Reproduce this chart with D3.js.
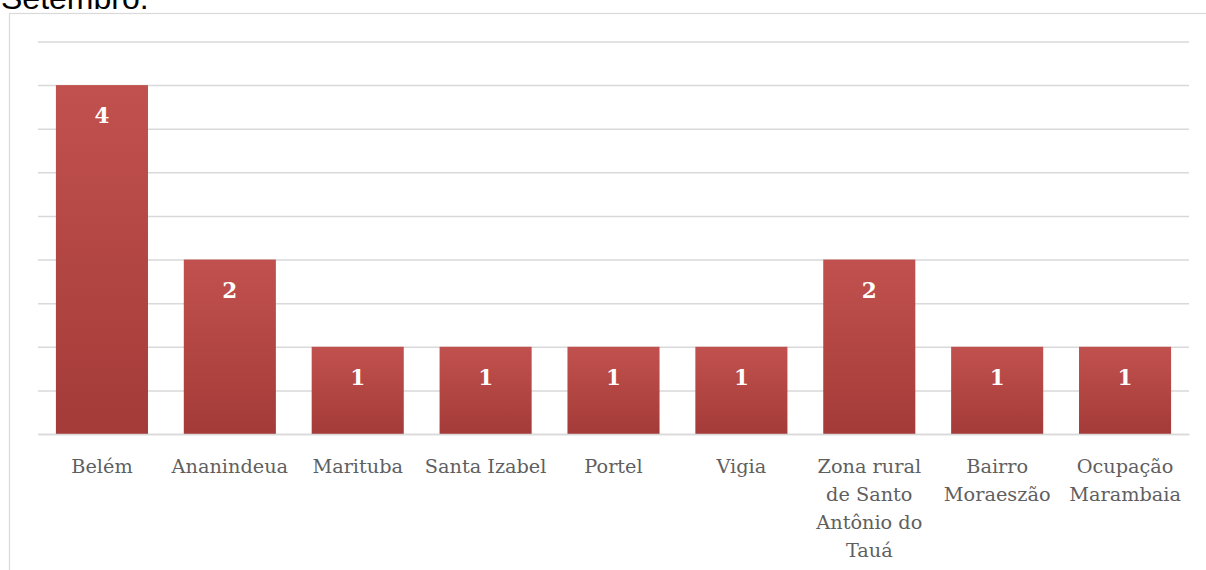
<!DOCTYPE html>
<html><head><meta charset="utf-8">
<script src="https://cdn.jsdelivr.net/npm/d3@7"></script>
<style>
html,body{margin:0;padding:0;background:#fff;overflow:hidden}
svg{display:block}
</style></head>
<body>
<script>
const categories = ["Belém","Ananindeua","Marituba","Santa Izabel","Portel","Vigia","Zona rural\nde Santo\nAntônio do\nTauá","Bairro\nMoraeszão","Ocupação\nMarambaia"];
const values = [4,2,1,1,1,1,2,1,1];
const gridTicks = [0,0.5,1,1.5,2,2.5,3,3.5,4,4.5];
const title = "Setembro.";

(function(){
const W = 1206, H = 570;
const svg = d3.select("body").append("svg").attr("width", W).attr("height", H);

const defs = svg.append("defs");
const g = defs.append("linearGradient").attr("id","barGrad").attr("x1",0).attr("y1",0).attr("x2",0).attr("y2",1);
g.append("stop").attr("offset","0%").attr("stop-color","#c1514e");
g.append("stop").attr("offset","100%").attr("stop-color","#a43b38");

// chart border
svg.append("rect").attr("x",9.5).attr("y",13.5).attr("width",W).attr("height",H)
  .attr("fill","none").attr("stroke","#d9d9d9").attr("stroke-width",1.2);

// title (cut off at top, as in the reference)
svg.append("text").attr("x",1).attr("y",9).text(title)
  .attr("font-family","Liberation Sans, Arial, sans-serif").attr("font-size",32).attr("fill","#000");

const mLeft = 38, mRight = 1189, mTop = 41.5, mBottom = 434;
const x = d3.scaleBand().domain(categories).range([mLeft,mRight]).paddingInner(0.28).paddingOuter(0.14);
const y = d3.scaleLinear().domain([0,4.5]).range([mBottom, mTop]);

// gridlines
const grid = svg.append("g")
  .attr("transform",`translate(${mLeft},0)`)
  .call(d3.axisLeft(y).tickValues(gridTicks).tickSize(-(mRight-mLeft)).tickFormat(""));
grid.select(".domain").remove();
grid.selectAll(".tick line").attr("stroke","#d9d9d9").attr("stroke-width",1.5);

// bars
svg.append("g").selectAll("rect").data(values).join("rect")
  .attr("x",(d,i)=>x(categories[i]))
  .attr("y",d=>y(d))
  .attr("width",x.bandwidth())
  .attr("height",d=>y(0)-y(d))
  .attr("fill","url(#barGrad)");

// value labels
svg.append("g").selectAll("text").data(values).join("text")
  .attr("x",(d,i)=>x(categories[i])+x.bandwidth()/2)
  .attr("y",d=>y(d)+38)
  .attr("text-anchor","middle")
  .attr("font-family","DejaVu Serif, Liberation Serif, serif")
  .attr("font-weight","bold").attr("font-size",21.5).attr("fill","#fff")
  .text(d=>d);

// x axis
const xa = svg.append("g").attr("transform",`translate(0,${mBottom})`)
  .call(d3.axisBottom(x).tickSize(0).tickFormat(""));
xa.select(".domain").attr("stroke","#d9d9d9").attr("stroke-width",1.5);
xa.selectAll(".tick").each(function(d){
  const lines = d.split("\n");
  const t = d3.select(this).append("text")
    .attr("text-anchor","middle").attr("fill","#5f5f5f")
    .attr("font-family","DejaVu Serif, Liberation Serif, serif").attr("font-size",19.3);
  lines.forEach((ln,k)=>{
    t.append("tspan").attr("x",0).attr("y",38.5 + k*28.3).text(ln);
  });
});
})();
</script>
</body></html>
